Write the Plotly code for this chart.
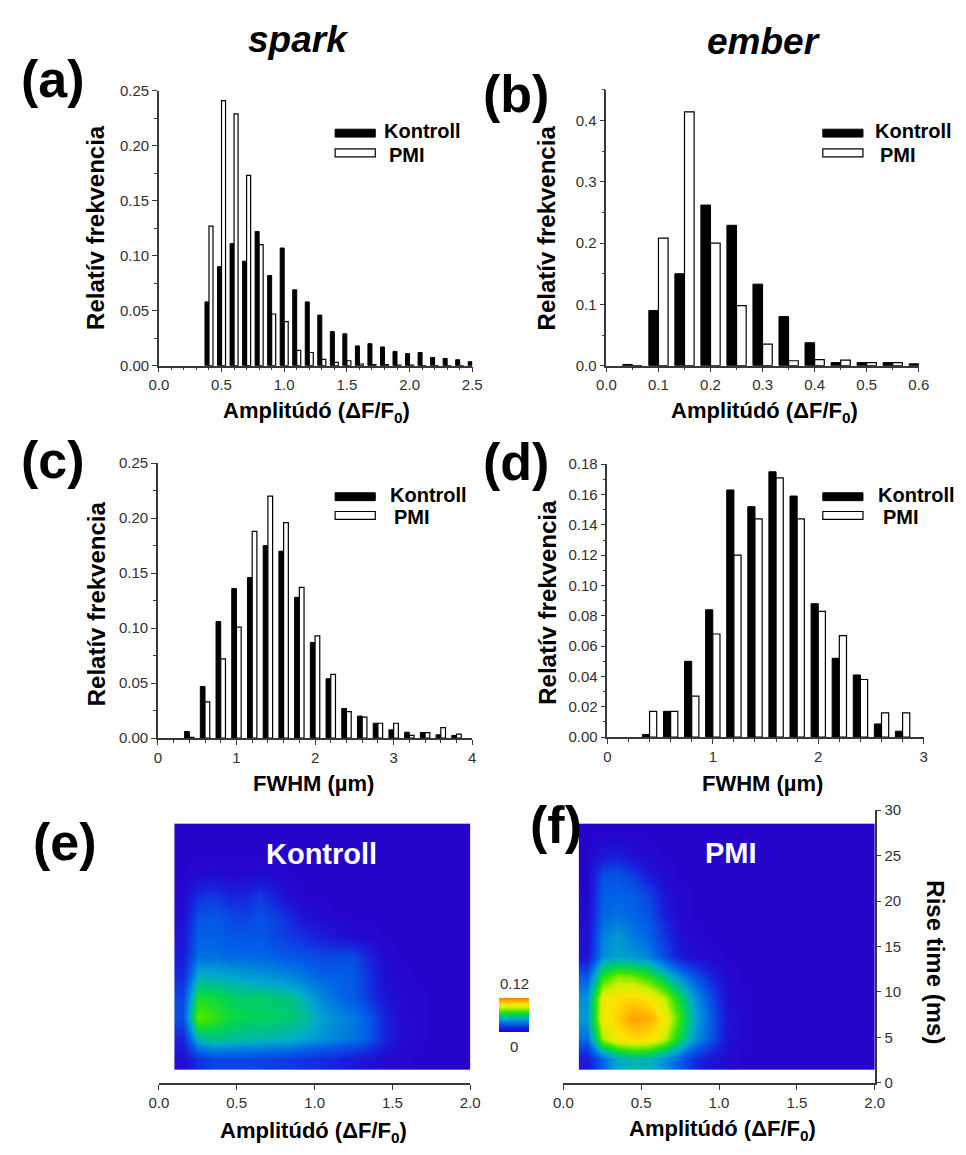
import plotly.graph_objects as go

W, H = 966, 1155

# ---------------- data ----------------
# (a) spark amplitude
a_bins = [0.4, 0.5, 0.6, 0.7, 0.8, 0.9, 1.0, 1.1, 1.2, 1.3, 1.4, 1.5, 1.6, 1.7, 1.8, 1.9, 2.0, 2.1, 2.2, 2.3, 2.4, 2.5]
a_kontroll = [0.058, 0.090, 0.111, 0.095, 0.122, 0.082, 0.107, 0.069, 0.058, 0.046, 0.031, 0.029, 0.018, 0.020, 0.017, 0.013, 0.011, 0.012, 0.0075, 0.0066, 0.0054, 0.0036]
a_pmi = [0.127, 0.241, 0.229, 0.173, 0.110, 0.047, 0.040, 0.014, 0.012, 0.0057, 0.003, 0.0045, 0.0015, 0.001, 0.001, 0.0005, 0.0005, 0.0, 0.0, 0.0, 0.0, 0.0]

# (b) ember amplitude
b_bins = [0.05, 0.10, 0.15, 0.20, 0.25, 0.30, 0.35, 0.40, 0.45, 0.50, 0.55, 0.60]
b_kontroll = [0.002, 0.090, 0.150, 0.262, 0.229, 0.133, 0.080, 0.0375, 0.005, 0.005, 0.005, 0.003]
b_pmi = [0.0, 0.208, 0.414, 0.200, 0.098, 0.035, 0.008, 0.010, 0.009, 0.005, 0.005, 0.0]

# (c) spark FWHM
c_bins = [0.4, 0.6, 0.8, 1.0, 1.2, 1.4, 1.6, 1.8, 2.0, 2.2, 2.4, 2.6, 2.8, 3.0, 3.2, 3.4, 3.6, 3.8]
c_kontroll = [0.006, 0.047, 0.106, 0.136, 0.146, 0.175, 0.170, 0.128, 0.087, 0.054, 0.027, 0.020, 0.0135, 0.0075, 0.0054, 0.005, 0.003, 0.0024]
c_pmi = [0.0006, 0.033, 0.072, 0.101, 0.188, 0.220, 0.196, 0.137, 0.093, 0.058, 0.024, 0.019, 0.0135, 0.0135, 0.0024, 0.005, 0.0096, 0.0036]

# (d) ember FWHM
d_bins = [0.4, 0.6, 0.8, 1.0, 1.2, 1.4, 1.6, 1.8, 2.0, 2.2, 2.4, 2.6, 2.8]
d_kontroll = [0.0017, 0.017, 0.050, 0.084, 0.163, 0.152, 0.175, 0.159, 0.088, 0.052, 0.041, 0.0087, 0.0039]
d_pmi = [0.017, 0.017, 0.027, 0.068, 0.120, 0.144, 0.171, 0.144, 0.083, 0.067, 0.038, 0.016, 0.016]

# (e)/(f) 2D histograms: amplitude bin edges, rise-time bin edges (ms)
amp_edges = [0.1, 0.2, 0.3, 0.4, 0.5, 0.6, 0.7, 0.8, 0.9, 1.0, 1.1, 1.2, 1.3, 1.4, 1.5, 1.6, 1.7, 1.8, 1.9, 2.0]
rise_edges = [1.5, 3.75, 6.0, 8.25, 10.5, 12.75, 15.0, 17.25, 19.5, 21.75, 24.0, 26.25, 28.5]

# relative frequency x1000, rows = rise time (bottom -> top), cols = amplitude
kontroll_2d = [
    [5, 17, 22, 22, 22, 21, 20, 19, 17, 15, 13, 10, 7, 4, 3, 2, 2, 2, 2],
    [13, 50, 55, 53, 51, 50, 49, 47, 44, 40, 37, 34, 27, 14, 5, 3, 2, 2, 2],
    [24, 76, 70, 64, 61, 60, 59, 57, 52, 43, 39, 35, 28, 13, 5, 3, 2, 2, 2],
    [22, 66, 64, 60, 58, 58, 56, 54, 46, 38, 32, 28, 18, 8, 4, 3, 2, 2, 2],
    [15, 48, 48, 46, 44, 42, 40, 38, 34, 30, 29, 27, 17, 6, 3, 2, 2, 2, 2],
    [10, 33, 33, 31, 31, 31, 29, 27, 25, 23, 24, 24, 13, 4, 2, 2, 2, 2, 2],
    [8, 29, 29, 27, 26, 27, 23, 19, 15, 11, 7, 4, 3, 2, 2, 2, 2, 2, 2],
    [5, 25, 27, 23, 21, 25, 21, 13, 6, 3, 2, 2, 2, 2, 2, 2, 2, 2, 2],
    [3, 15, 19, 13, 13, 19, 11, 4, 2, 2, 2, 2, 2, 2, 2, 2, 2, 2, 2],
    [2, 4, 5, 3, 3, 5, 3, 2, 2, 2, 2, 2, 2, 2, 2, 2, 2, 2, 2],
    [2, 2, 2, 2, 2, 2, 2, 2, 2, 2, 2, 2, 2, 2, 2, 2, 2, 2, 2],
    [2, 2, 2, 2, 2, 2, 2, 2, 2, 2, 2, 2, 2, 2, 2, 2, 2, 2, 2],
]
pmi_2d = [
    [10, 30, 45, 50, 48, 40, 28, 15, 8, 4, 2, 2, 2, 2, 2, 2, 2, 2, 2],
    [32, 82, 96, 100, 98, 86, 62, 40, 26, 8, 3, 2, 2, 2, 2, 2, 2, 2, 2],
    [42, 94, 103, 113, 110, 96, 70, 44, 28, 8, 3, 2, 2, 2, 2, 2, 2, 2, 2],
    [40, 92, 99, 101, 97, 84, 62, 40, 24, 6, 3, 2, 2, 2, 2, 2, 2, 2, 2],
    [28, 68, 80, 78, 70, 56, 40, 26, 14, 4, 2, 2, 2, 2, 2, 2, 2, 2, 2],
    [8, 40, 44, 42, 37, 24, 10, 5, 3, 2, 2, 2, 2, 2, 2, 2, 2, 2, 2],
    [6, 36, 42, 35, 30, 18, 6, 3, 2, 2, 2, 2, 2, 2, 2, 2, 2, 2, 2],
    [4, 31, 33, 30, 26, 12, 4, 2, 2, 2, 2, 2, 2, 2, 2, 2, 2, 2, 2],
    [3, 28, 30, 28, 22, 8, 3, 2, 2, 2, 2, 2, 2, 2, 2, 2, 2, 2, 2],
    [2, 24, 26, 20, 10, 4, 2, 2, 2, 2, 2, 2, 2, 2, 2, 2, 2, 2, 2],
    [2, 8, 10, 5, 3, 2, 2, 2, 2, 2, 2, 2, 2, 2, 2, 2, 2, 2, 2],
    [2, 2, 2, 2, 2, 2, 2, 2, 2, 2, 2, 2, 2, 2, 2, 2, 2, 2, 2],
]

# ---------------- helpers ----------------
FONT = "Liberation Sans, Arial, Helvetica, sans-serif"
AXC = "#383838"
TICKC = "#303030"


def px(x):
    return x / W


def py(y):
    return 1 - y / H


fig = go.Figure()


def add_bars(xs, k, p, width, axis):
    xa, ya = axis
    fig.add_trace(go.Bar(x=xs, y=k, name="Kontroll", width=width, offset=-width,
                         marker=dict(color="black", line=dict(color="black", width=1)),
                         xaxis=xa, yaxis=ya, showlegend=False))
    fig.add_trace(go.Bar(x=xs, y=p, name="PMI", width=width, offset=0,
                         marker=dict(color="white", line=dict(color="black", width=1.2)),
                         xaxis=xa, yaxis=ya, showlegend=False))


add_bars(a_bins, a_kontroll, a_pmi, 0.032, ("x", "y"))
add_bars(b_bins, b_kontroll, b_pmi, 0.0185, ("x2", "y2"))
add_bars(c_bins, c_kontroll, c_pmi, 0.06, ("x3", "y3"))
add_bars(d_bins, d_kontroll, d_pmi, 0.068, ("x4", "y4"))

z_k = [[v / 1000 for v in row] for row in kontroll_2d]
z_p = [[v / 1000 for v in row] for row in pmi_2d]

fig.add_trace(go.Heatmap(x=amp_edges, y=rise_edges, z=z_k, zsmooth="best", coloraxis="coloraxis",
                         xaxis="x5", yaxis="y5"))
fig.add_trace(go.Heatmap(x=amp_edges, y=rise_edges, z=z_p, zsmooth="best", coloraxis="coloraxis",
                         xaxis="x6", yaxis="y6"))


def common():
    return dict(showline=True, linecolor=AXC, linewidth=1.5, ticks="outside", ticklen=5,
                tickcolor=AXC, tickwidth=1.3, showgrid=False, zeroline=False,
                tickfont=dict(family=FONT, size=15, color=TICKC))


def xax(l, r, rng, dtick, minor, fmt, anchor):
    d = dict(domain=[px(l), px(r)], range=rng, dtick=dtick, tick0=0, tickformat=fmt, anchor=anchor, **common())
    if minor:
        d["minor"] = dict(dtick=minor, ticks="outside", ticklen=3, tickcolor=AXC, showgrid=False)
    return d


def yax(t, b, rng, dtick, minor, fmt, anchor):
    d = dict(domain=[py(b), py(t)], range=rng, dtick=dtick, tick0=0, tickformat=fmt, anchor=anchor, **common())
    if minor:
        d["minor"] = dict(dtick=minor, ticks="outside", ticklen=3, tickcolor=AXC, showgrid=False)
    return d


y6 = dict(domain=[py(1090), py(813)], range=[0, 30], dtick=5, side="right", anchor="x6", **common())

fig.update_layout(
    width=W, height=H, margin=dict(l=0, r=0, t=0, b=0),
    paper_bgcolor="white", plot_bgcolor="white", barmode="overlay", showlegend=False,
    xaxis=xax(152, 472, [0, 2.5], 0.5, 0.1, ".1f", "y"),
    yaxis=yax(83, 362, [0, 0.25], 0.05, 0.025, ".2f", "x"),
    xaxis2=xax(609, 928, [0, 0.6], 0.1, 0.05, ".1f", "y2"),
    yaxis2=yax(82, 362, [0, 0.45], 0.1, 0.05, ".1f", "x2"),
    xaxis3=xax(151, 472, [0, 4], 1, 0.2, "d", "y3"),
    yaxis3=yax(461, 740, [0, 0.25], 0.05, 0.025, ".2f", "x3"),
    xaxis4=xax(610, 933, [0, 3], 1, 0.2, "d", "y4"),
    yaxis4=yax(462, 739, [0, 0.18], 0.02, 0.01, ".2f", "x4"),
    xaxis5=xax(152, 470, [0, 2], 0.5, None, ".1f", "y5"),
    yaxis5=dict(domain=[py(1090), py(813)], range=[0, 30], visible=False, anchor="x5"),
    xaxis6=xax(565, 883, [0, 2], 0.5, None, ".1f", "y6"),
    yaxis6=y6,
    coloraxis=dict(
        cmin=0, cmax=0.12,
        colorscale=[[0.0, "rgb(40,0,200)"], [0.1, "rgb(25,30,220)"], [0.25, "rgb(0,100,232)"],
                    [0.38, "rgb(0,170,205)"], [0.5, "rgb(0,210,90)"], [0.6, "rgb(60,230,0)"],
                    [0.72, "rgb(210,240,0)"], [0.82, "rgb(255,228,0)"], [1.0, "rgb(255,125,0)"]],
        colorbar=dict(x=px(515), xanchor="center", y=py(1021), yanchor="middle",
                      len=34, lenmode="pixels", thickness=30, thicknessmode="pixels",
                      xpad=0, ypad=0, showticklabels=False, ticks="", outlinewidth=0),
    ),
)

ann = []


def text(x, y, s, size, bold=True, italic=False, color="black", angle=0, xanchor="center"):
    ann.append(dict(x=px(x), y=py(y), xref="paper", yref="paper", text=s, showarrow=False,
                    xanchor=xanchor, yanchor="middle", textangle=angle,
                    font=dict(family=FONT, size=size, color=color,
                              weight="bold" if bold else "normal",
                              style="italic" if italic else "normal")))


text(295, 31, "spark", 37, italic=True)
text(770, 33, "ember", 37, italic=True)
text(44, 71, "(a)", 52)
text(517, 86, "(b)", 52)
text(44, 458, "(c)", 52)
text(517, 460, "(d)", 52)
text(56, 845, "(e)", 52)
text(558, 828, "(f)", 52)

for x, y in [(88, 222), (548, 222), (88, 604), (548, 602)]:
    text(x, y, "Relatív frekvencia", 24, angle=-90)
text(313, 409, "Amplitúdó (ΔF/F<sub>0</sub>)", 22)
text(770, 409, "Amplitúdó (ΔF/F<sub>0</sub>)", 22)
text(310, 786, "FWHM (µm)", 22)
text(768, 786, "FWHM (µm)", 22)
text(310, 1140, "Amplitúdó (ΔF/F<sub>0</sub>)", 22)
text(728, 1138, "Amplitúdó (ΔF/F<sub>0</sub>)", 22)
text(945, 968, "Rise time (ms)", 24, angle=90)

text(318, 858, "Kontroll", 29, color="white")
text(736, 857, "PMI", 29, color="white")

text(515, 989, "0.12", 15, bold=False, color=TICKC)
text(515, 1053, "0", 15, bold=False, color=TICKC)

shapes = []
legends = [(332, 126, 146, 380, 385), (830, 126, 146, 881, 886), (332, 495, 514, 386, 390), (830, 495, 514, 884, 889)]
for lx, yk, yp, tk, tp in legends:
    shapes.append(dict(type="rect", xref="paper", yref="paper", x0=px(lx), x1=px(lx + 41),
                       y0=py(yk + 4), y1=py(yk - 4), fillcolor="black", line=dict(color="black", width=1)))
    shapes.append(dict(type="rect", xref="paper", yref="paper", x0=px(lx), x1=px(lx + 41),
                       y0=py(yp + 4), y1=py(yp - 4), fillcolor="white", line=dict(color="black", width=1.2)))
    text(tk, yk - 2, "Kontroll", 20, xanchor="left")
    text(tp, yp + 2, "PMI", 20, xanchor="left")

fig.update_layout(annotations=ann, shapes=shapes)
fig.write_html("out.html")
